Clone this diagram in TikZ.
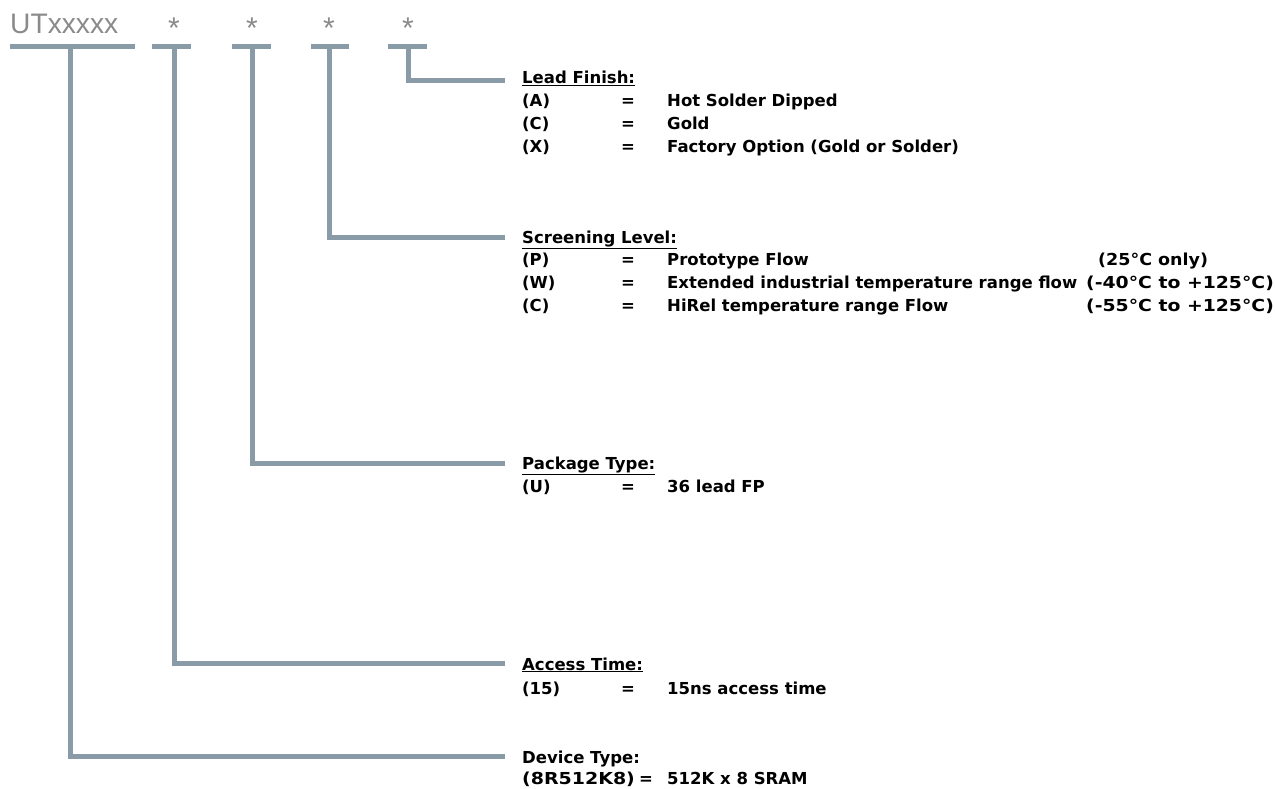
\documentclass[tikz,border=0pt]{standalone}
\usepackage{fontspec}
\setmainfont{DejaVu Sans}
\newfontfamily\hdfont{Liberation Sans}
\definecolor{barc}{HTML}{8A9BA8}
\definecolor{codec}{HTML}{8A8A8A}
\begin{document}
\begin{tikzpicture}[x=1pt,y=-1pt,
  bar/.style={draw=barc,line width=5.5pt},
  lead/.style={draw=barc,line width=5pt,line join=miter},
  code/.style={anchor=base,inner sep=0pt,font=\hdfont\fontsize{28.2}{28.2}\selectfont,text=codec},
  star/.style={anchor=base,inner sep=0pt,font=\hdfont\fontsize{30}{30}\selectfont,text=codec},
  txt/.style={anchor=base west,inner sep=0pt,font=\bfseries\fontsize{16.5}{16.5}\selectfont},
  eq/.style={anchor=base,inner sep=0pt,font=\bfseries\fontsize{16.5}{16.5}\selectfont}]
\useasboundingbox (0,0) rectangle (1275,789);
% code header
\node[code,anchor=base west] (ut) at (10,34) {UTxxxxx};
\node[star] (s1) at (174,39) {*};
\node[star] (s2) at (252,39) {*};
\node[star] (s3) at (329,39) {*};
\node[star] (s4) at (408,39) {*};
% bars
\coordinate (b0l) at (10,46.5); \coordinate (b0r) at (135,46.5);
\coordinate (b1l) at (152,46.5); \coordinate (b1r) at (191,46.5);
\coordinate (b2l) at (232,46.5); \coordinate (b2r) at (271,46.5);
\coordinate (b3l) at (311,46.5); \coordinate (b3r) at (349,46.5);
\coordinate (b4l) at (388,46.5); \coordinate (b4r) at (427,46.5);
\draw[bar] (b0l) -- (b0r);
\draw[bar] (b1l) -- (b1r);
\draw[bar] (b2l) -- (b2r);
\draw[bar] (b3l) -- (b3r);
\draw[bar] (b4l) -- (b4r);
% endpoints of leaders
\coordinate (e4) at (505,80.5);
\coordinate (e3) at (505,237);
\coordinate (e2) at (505,463);
\coordinate (e1) at (505,663);
\coordinate (e0) at (505,756);
\draw[lead] (408,46.5) |- (e4);
\draw[lead] (329,46.5) |- (e3);
\draw[lead] (252,46.5) |- (e2);
\draw[lead] (174,46.5) |- (e1);
\draw[lead] (70,46.5) |- (e0);
% Lead finish
\node[txt] (lfh) at (522,84) {\underline{Lead Finish:}};
\node[txt] (lfa) at (522,107) {(A)};
\node[eq] (lfae) at (628,107) {=};
\node[txt] (lfav) at (667,107) {Hot Solder Dipped};
\node[txt] (lfc) at (522,130) {(C)};
\node[eq] (lfce) at (628,130) {=};
\node[txt] (lfcv) at (667,130) {Gold};
\node[txt] (lfx) at (522,153) {(X)};
\node[eq] (lfxe) at (628,153) {=};
\node[txt] (lfxv) at (667,153) {Factory Option (Gold or Solder)};
% Screening level
\node[txt] (slh) at (522,243) {\underline{Screening Level:}};
\node[txt] (slp) at (522,265) {(P)};
\node[eq] (slpe) at (628,265) {=};
\node[txt] (slpv) at (667,265) {Prototype Flow};
\node[txt] (slpt) at (1098,265) {\scalebox{1.06}[1]{(25°C only)}};
\node[txt] (slw) at (522,288) {(W)};
\node[eq] (slwe) at (628,288) {=};
\node[txt] (slwv) at (667,288) {Extended industrial temperature range flow};
\node[txt] (slwt) at (1086,288) {\scalebox{1.14}[1]{(-40°C to +125°C)}};
\node[txt] (slc) at (522,311) {(C)};
\node[eq] (slce) at (628,311) {=};
\node[txt] (slcv) at (667,311) {HiRel temperature range Flow};
\node[txt] (slct) at (1086,311) {\scalebox{1.14}[1]{(-55°C to +125°C)}};
% Package type
\node[txt] (pth) at (522,469) {\underline{Package Type:}};
\node[txt] (ptu) at (522,492) {(U)};
\node[eq] (ptue) at (628,492) {=};
\node[txt] (ptuv) at (667,492) {36 lead FP};
% Access time
\node[txt] (ath) at (522,670) {\underline{Access Time:}};
\node[txt] (at15) at (522,694) {(15)};
\node[eq] (at15e) at (628,694) {=};
\node[txt] (at15v) at (667,694) {15ns access time};
% Device type
\node[txt] (dth) at (522,763) {Device Type:};
\node[txt] (dtd) at (522,784) {\scalebox{1.15}[1]{(8R512K8)}};
\node[eq] (dtde) at (646,784) {=};
\node[txt] (dtdv) at (667,784) {512K x 8 SRAM};
\end{tikzpicture}
\end{document}
